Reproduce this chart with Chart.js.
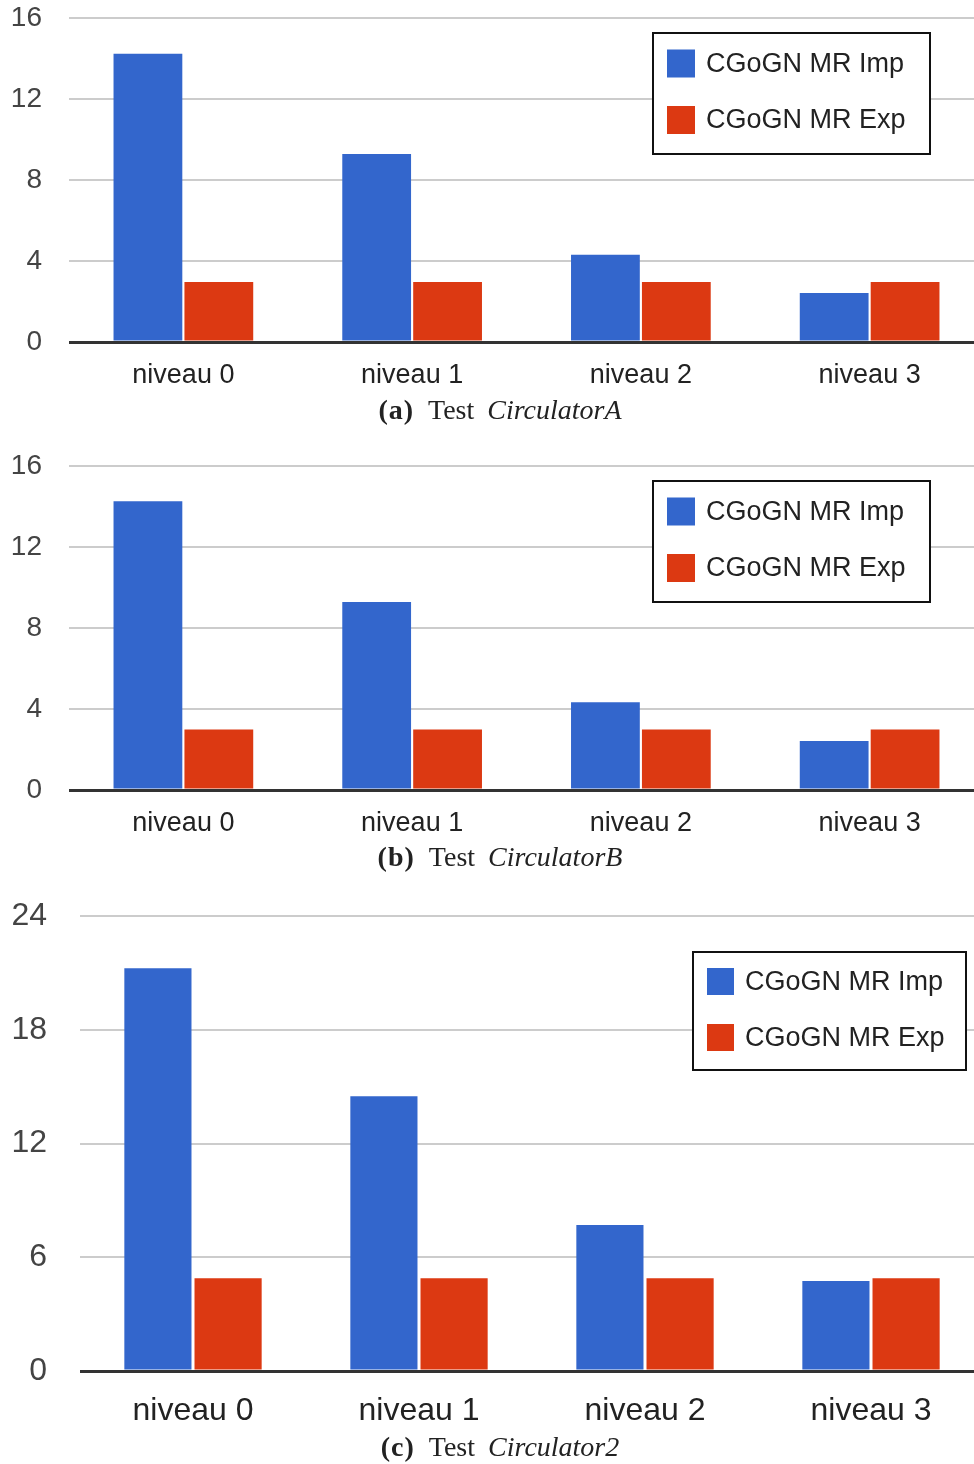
<!DOCTYPE html>
<html>
<head>
<meta charset="utf-8">
<script src="https://cdn.jsdelivr.net/npm/chart.js@4.4.1/dist/chart.umd.min.js"></script>
<style>
  html, body { margin: 0; padding: 0; background: #fff; overflow: hidden; }
  body { width: 974px; height: 1464px; position: relative; }
  .panel { position: absolute; left: 0; width: 984px; }
  .caption {
    position: absolute; left: 0; width: 1000px; text-align: center;
    font-family: "Liberation Serif", "Times New Roman", serif;
    font-size: 28px; line-height: 32px; color: #222; white-space: nowrap;
  }
  .caption b { margin-right: 14px; letter-spacing: 1px; }
  .caption i { margin-left: 13px; }
</style>
</head>
<body>
<div class="panel" style="top:-26px"><canvas id="chartA" width="984" height="421"></canvas></div>
<div class="caption" style="top:394px"><b>(a)</b>Test<i>CirculatorA</i></div>

<div class="panel" style="top:422px"><canvas id="chartB" width="984" height="421"></canvas></div>
<div class="caption" style="top:841px"><b>(b)</b>Test<i>CirculatorB</i></div>

<div class="panel" style="top:864px"><canvas id="chartC" width="984" height="566"></canvas></div>
<div class="caption" style="top:1431px"><b>(c)</b>Test<i>Circulator2</i></div>

<script>
// levels tested
const categories = ["niveau 0", "niveau 1", "niveau 2", "niveau 3"];
const seriesNames = ["CGoGN MR Imp", "CGoGN MR Exp"];

// (a) Test CirculatorA
const impA = [14.22, 9.28, 4.30, 2.42];
const expA = [2.96, 2.96, 2.96, 2.96];

// (b) Test CirculatorB
const impB = [14.25, 9.28, 4.33, 2.42];
const expB = [2.98, 2.98, 2.98, 2.98];

// (c) Test Circulator2
const impC = [21.25, 14.5, 7.7, 4.75];
const expC = [4.9, 4.9, 4.9, 4.9];

// y axis tick labels
const ticksAB = [0, 4, 8, 12, 16];
const ticksC = [0, 6, 12, 18, 24];

const blue = "#3366cc";
const red = "#dc3912";
const sans = '"Liberation Sans", Arial, sans-serif';

// legend in a framed box, drawn on top of the plot
const boxLegend = {
  id: "boxLegend",
  afterDraw(chart, args, o) {
    const ctx = chart.ctx;
    ctx.save();
    ctx.fillStyle = "#fff";
    ctx.fillRect(o.x, o.y, o.w, o.h);
    ctx.lineWidth = 2;
    ctx.strokeStyle = "#111";
    ctx.strokeRect(o.x, o.y, o.w, o.h);
    chart.data.datasets.forEach((ds, i) => {
      const cy = o.rows[i];
      ctx.fillStyle = ds.backgroundColor;
      ctx.fillRect(o.swX, cy - o.sw / 2, o.sw, o.sw);
      ctx.fillStyle = "#222";
      ctx.font = o.font + "px " + sans;
      ctx.textBaseline = "middle";
      ctx.fillText(ds.label, o.textX, cy + 1);
    });
    ctx.restore();
  }
};

function makeChart(id, imp, exp, tickVals, s) {
  const ctx = document.getElementById(id).getContext("2d");
  return new Chart(ctx, {
    type: "bar",
    data: {
      labels: categories,
      datasets: [
        { label: seriesNames[0], data: imp, backgroundColor: blue },
        { label: seriesNames[1], data: exp, backgroundColor: red }
      ]
    },
    options: {
      responsive: false,
      animation: false,
      layout: { padding: { top: 0, right: 0, bottom: 0, left: 0 } },
      datasets: {
        bar: { categoryPercentage: s.catPct, barPercentage: s.barPct }
      },
      scales: {
        x: {
          grid: { display: false },
          border: { display: false },
          ticks: { color: "#222", font: { family: sans, size: s.xFont }, padding: s.xPad, maxRotation: 0 },
          afterFit: (scale) => { scale.height = s.xHeight; }
        },
        y: {
          min: tickVals[0],
          max: tickVals[tickVals.length - 1],
          afterBuildTicks: (scale) => { scale.ticks = tickVals.map(v => ({ value: v })); },
          border: { display: false },
          grid: {
            drawTicks: false,
            color: (c) => c.tick && c.tick.value === 0 ? "#333" : "#cccccc",
            lineWidth: (c) => c.tick && c.tick.value === 0 ? 3 : 2
          },
          ticks: { color: "#444", font: { family: sans, size: s.yFont }, padding: s.yPad },
          afterFit: (scale) => { scale.width = s.yWidth; }
        }
      },
      plugins: {
        legend: { display: false },
        tooltip: { enabled: false },
        boxLegend: s.legend
      }
    },
    plugins: [boxLegend]
  });
}

// legend box coordinates are canvas-relative (canvas starts above the panel)
const smallStyle = {
  catPct: 0.62, barPct: 0.97,
  xFont: 27, xPad: 9, xHeight: 53,
  yFont: 28, yPad: 27, yWidth: 69,
  legend: { x: 653, y: 59, w: 277, h: 121, swX: 667, sw: 28, rows: [89.5, 146], textX: 706, font: 27 }
};

makeChart("chartA", impA, expA, ticksAB, smallStyle);
makeChart("chartB", impB, expB, ticksAB, smallStyle);
makeChart("chartC", impC, expC, ticksC, {
  catPct: 0.621, barPct: 0.957,
  xFont: 32, xPad: 13, xHeight: 59,
  yFont: 32, yPad: 33, yWidth: 80,
  legend: { x: 693, y: 88, w: 273, h: 118, swX: 707, sw: 27, rows: [117.5, 173.5], textX: 745, font: 27 }
});
</script>
</body>
</html>
